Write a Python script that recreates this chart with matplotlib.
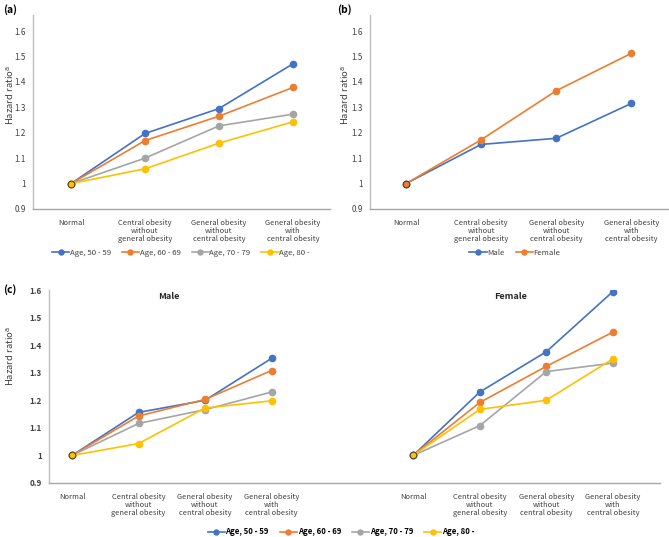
import matplotlib
matplotlib.use("Agg")
import matplotlib.pyplot as plt

plt.rcParams['font.family'] = ['Noto Sans CJK KR', 'DejaVu Sans']

categories = ["Normal", "Central obesity\nwithout\ngeneral obesity",
              "General obesity\nwithout\ncentral obesity",
              "General obesity\nwith\ncentral obesity"]
age_labels = ["Age, 50 - 59", "Age, 60 - 69", "Age, 70 - 79", "Age, 80 -"]
sex_labels = ["Male", "Female"]
yticks = [0.9, 1.0, 1.1, 1.2, 1.3, 1.4, 1.5, 1.6]
ytick_labels = ["0.9", "1", "1.1", "1.2", "1.3", "1.4", "1.5", "1.6"]

# (a) by age
age_a = [
    [1.0, 1.197, 1.295, 1.471],
    [1.0, 1.169, 1.265, 1.378],
    [1.0, 1.100, 1.227, 1.273],
    [1.0, 1.058, 1.159, 1.243],
]
# (b) by sex
sex_b = [
    [1.0, 1.154, 1.178, 1.315],
    [1.0, 1.172, 1.365, 1.512],
]
# (c) by sex and age
male_c = [
    [1.0, 1.156, 1.200, 1.352],
    [1.0, 1.143, 1.203, 1.308],
    [1.0, 1.116, 1.166, 1.230],
    [1.0, 1.043, 1.172, 1.198],
]
female_c = [
    [1.0, 1.230, 1.376, 1.594],
    [1.0, 1.192, 1.323, 1.447],
    [1.0, 1.108, 1.304, 1.335],
    [1.0, 1.167, 1.200, 1.350],
]

age_colors = ["#4472C4", "#ED7D31", "#A5A5A5", "#FFC000"]
sex_colors = ["#4472C4", "#ED7D31"]

W, H = 669, 537
fig = plt.figure(figsize=(W / 100, H / 100), dpi=100)


def px_axes(l, r, t, b):
    return fig.add_axes([l / W, 1 - b / H, (r - l) / W, (b - t) / H])


FSX = 5.4
FSY = 5.8
TXT = "#404040"


def style(ax, ylim):
    ax.set_ylim(*ylim)
    ax.set_yticks(yticks)
    ax.set_yticklabels(ytick_labels)
    for s in ["top", "right"]:
        ax.spines[s].set_visible(False)
    ax.spines["left"].set_color("#BFBFBF")
    ax.spines["bottom"].set_color("#A6A6A6")
    ax.spines["left"].set_linewidth(1.0)
    ax.spines["bottom"].set_linewidth(1.0)
    ax.tick_params(axis="y", length=0, labelsize=FSY, colors=TXT, pad=5)
    ax.tick_params(axis="x", length=0, labelsize=FSX, colors=TXT, pad=7)
    for lab in ax.get_xticklabels():
        lab.set_linespacing(1.0)


def draw(ax, xs, series, colors):
    handles = []
    for vals, c in zip(series, colors):
        h, = ax.plot(xs, vals, color=c, lw=1.2, marker="o", ms=4.5,
                     mfc=c, mec=c, zorder=3)
        handles.append(h)
    # dark ring at the common origin point
    ax.plot([xs[0]], [series[-1][0]], marker="o", ms=4.8, mfc=colors[-1],
            mec="#3a3a3a", mew=0.7, zorder=4, ls="none")
    return handles


x4 = [0, 1, 2, 3]
LEG = dict(frameon=False, handlelength=2.2, handletextpad=0.1,
           columnspacing=1.4, markerscale=0.8)

# ---- (a)
axA = px_axes(33, 330, 15, 209)
hA = draw(axA, x4, age_a, age_colors)
axA.set_xlim(-0.514, 3.50)
axA.set_xticks(x4)
axA.set_xticklabels(categories)
style(axA, (0.9, 1.663))
fig.text(10 / W, 1 - 95 / H, "Hazard ratio$^{\\mathrm{a}}$", rotation=90,
         ha="center", va="center", fontsize=6.8, color=TXT)
fig.text(3 / W, 1 - 10 / H, "(a)", fontsize=7.5, fontweight="bold",
         ha="left", va="center")
fig.legend(hA, age_labels, loc="center", bbox_to_anchor=(181 / W, 1 - 253 / H),
           ncol=4, fontsize=5.6, labelcolor=TXT, **LEG)

# ---- (b)
axB = px_axes(370, 668, 15, 209)
hB = draw(axB, x4, sex_b, sex_colors)
axB.set_xlim(-0.48, 3.49)
axB.set_xticks(x4)
axB.set_xticklabels(categories)
style(axB, (0.9, 1.663))
fig.text(345 / W, 1 - 95 / H, "Hazard ratio$^{\\mathrm{a}}$", rotation=90,
         ha="center", va="center", fontsize=6.8, color=TXT)
fig.text(337 / W, 1 - 10 / H, "(b)", fontsize=7.5, fontweight="bold",
         ha="left", va="center")
fig.legend(hB, sex_labels, loc="center", bbox_to_anchor=(515 / W, 1 - 253 / H),
           ncol=2, fontsize=5.6, labelcolor=TXT, **LEG)

# ---- (c)
axC = px_axes(49, 660, 290, 483)
xm = [0, 1, 2, 3]
xf = [5.13, 6.13, 7.13, 8.13]
hC = draw(axC, xm, male_c, age_colors)
draw(axC, xf, female_c, age_colors)
axC.set_xlim(-0.346, 8.84)
axC.set_xticks(xm + xf)
axC.set_xticklabels(categories + categories)
style(axC, (0.9, 1.6))
for lab in axC.get_yticklabels():
    lab.set_fontweight("bold")
axC.text(1.45, 1.575, "Male", ha="center", va="center", fontsize=6.5,
         fontweight="bold", color="#262626")
axC.text(6.6, 1.575, "Female", ha="center", va="center", fontsize=6.5,
         fontweight="bold", color="#262626")
fig.text(10 / W, 1 - 356 / H, "Hazard ratio$^{\\mathrm{a}}$", rotation=90,
         ha="center", va="center", fontsize=6.8, color=TXT)
fig.text(3 / W, 1 - 290 / H, "(c)", fontsize=7.5, fontweight="bold",
         ha="left", va="center")
fig.legend(hC, age_labels, loc="center", bbox_to_anchor=(341 / W, 1 - 532 / H),
           ncol=4, prop={"weight": "bold", "size": 5.6}, **LEG)

fig.savefig("out.png", dpi=100)
